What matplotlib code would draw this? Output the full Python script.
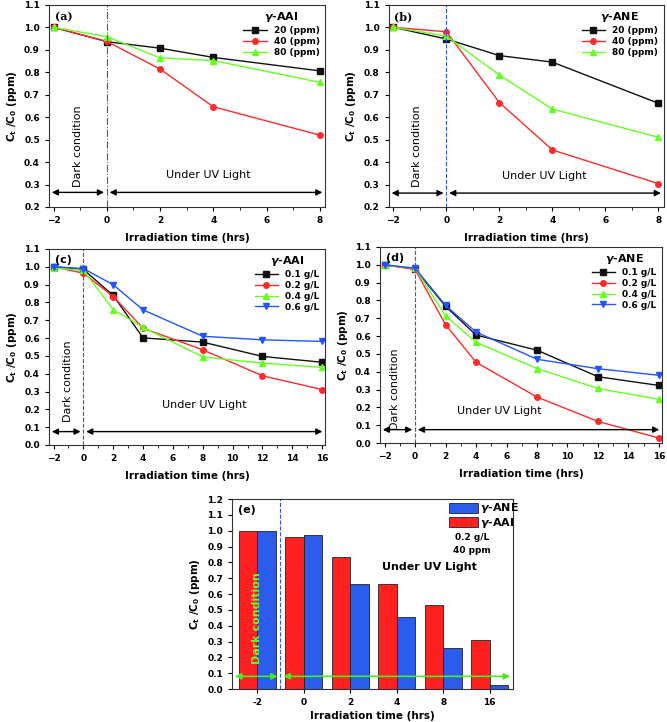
import matplotlib
matplotlib.use("Agg")
import matplotlib.pyplot as plt
from matplotlib.ticker import MultipleLocator, FormatStrFormatter
import numpy as np

plt.rcParams['font.family'] = ['DejaVu Sans']
plt.rcParams['font.weight'] = 'bold'
plt.rcParams['axes.labelweight'] = 'bold'

# ---- data ----
t_short = [-2, 0, 2, 4, 8]
t_long = [-2, 0, 2, 4, 8, 12, 16]

conc_labels = ['20 (ppm)', '40 (ppm)', '80 (ppm)']
aai_20 = [1.0, 0.936, 0.907, 0.866, 0.806]
aai_40 = [1.0, 0.937, 0.814, 0.646, 0.520]
aai_80 = [1.0, 0.958, 0.864, 0.852, 0.755]
ane_20 = [1.0, 0.948, 0.874, 0.845, 0.662]
ane_40 = [1.0, 0.980, 0.665, 0.454, 0.304]
ane_80 = [1.0, 0.961, 0.787, 0.636, 0.510]

dose_labels = ['0.1 g/L', '0.2 g/L', '0.4 g/L', '0.6 g/L']
aai_01 = [1.0, 0.985, 0.839, 0.601, 0.577, 0.497, 0.464]
aai_02 = [1.0, 0.964, 0.833, 0.655, 0.534, 0.388, 0.311]
aai_04 = [0.994, 0.980, 0.759, 0.660, 0.494, 0.459, 0.435]
aai_06 = [1.0, 0.990, 0.899, 0.758, 0.610, 0.590, 0.581]
ane_01 = [1.0, 0.977, 0.767, 0.606, 0.521, 0.372, 0.323]
ane_02 = [1.0, 0.974, 0.664, 0.453, 0.258, 0.121, 0.028]
ane_04 = [1.0, 0.981, 0.713, 0.565, 0.418, 0.306, 0.245]
ane_06 = [1.0, 0.981, 0.772, 0.623, 0.470, 0.417, 0.380]

bar_times = ['-2', '0', '2', '4', '8', '16']
bar_aai = [1.0, 0.962, 0.835, 0.661, 0.531, 0.311]
bar_ane = [1.0, 0.976, 0.664, 0.455, 0.258, 0.025]

colors = ['#111111', '#ff2a2a', '#66ff22', '#2255ff']
markers = ['s', 'o', '^', 'v']

fig = plt.figure(figsize=(6.67, 7.22), dpi=100)

ylab = r'C$_\mathbf{t}$ /C$_\mathbf{0}$ (ppm)'
xlab = 'Irradiation time (hrs)'


def style(ax, xlim, ylim, ystep):
    ax.set_xlim(xlim)
    ax.set_ylim(ylim)
    ax.xaxis.set_major_locator(MultipleLocator(2))
    ax.xaxis.set_minor_locator(MultipleLocator(1))
    ax.yaxis.set_major_locator(MultipleLocator(ystep))
    ax.yaxis.set_major_formatter(FormatStrFormatter('%.1f'))
    ax.tick_params(labelsize=6.5, direction='out', length=3, width=0.8)
    ax.tick_params(which='minor', direction='out', length=2)
    ax.set_xlabel(xlab, fontsize=7.5, labelpad=6)
    ax.set_ylabel(ylab, fontsize=7.5)
    for s in ax.spines.values():
        s.set_linewidth(0.8)
        s.set_color('#333333')


def arrows(ax, y, xlim, color='k'):
    kw = dict(arrowstyle='<|-|>', color=color, lw=1.0, mutation_scale=9)
    ax.annotate('', xy=(0, y), xytext=(xlim[0], y), arrowprops=kw)
    ax.annotate('', xy=(xlim[1], y), xytext=(0, y), arrowprops=kw)


def line_panel(rect, x, series, labels, title, tag, xlim, ylim, arr_y,
               dark_xy, uv_xy, vls, tagfont):
    ax = fig.add_axes(rect)
    for i, (ys, lab) in enumerate(zip(series, labels)):
        ax.plot(x, ys, color=colors[i], marker=markers[i], ms=4, lw=1.0,
                label=lab)
    ax.axvline(0, color='#3355dd', ls=vls, lw=0.8)
    style(ax, xlim, ylim, 0.1)
    arrows(ax, arr_y, xlim)
    ax.text(dark_xy[0], dark_xy[1], 'Dark condition', rotation=90,
            ha='center', va='center', fontsize=8, fontweight='normal')
    ax.text(uv_xy[0], uv_xy[1], 'Under UV Light', ha='center', va='center',
            fontsize=8, fontweight='normal')
    ax.text(0.02, 0.97, tag, transform=ax.transAxes, ha='left', va='top',
            fontsize=8, fontweight='bold', family=tagfont)
    ax.legend(loc='upper right', frameon=False, fontsize=6.5,
              title=title, title_fontproperties={'weight': 'bold', 'size': 8},
              handlelength=2.6, labelspacing=0.2, borderaxespad=0.2)
    return ax


xa = (-2.17, 8.2)
line_panel([0.0735, 0.7133, 0.414, 0.280], t_short, [aai_20, aai_40, aai_80],
           conc_labels, r'$\gamma$-AAI', '(a)', xa, (0.2, 1.1), 0.265,
           (-1.1, 0.47), (3.8, 0.344), '-.', 'DejaVu Serif')
line_panel([0.583, 0.7133, 0.412, 0.280], t_short, [ane_20, ane_40, ane_80],
           conc_labels, r'$\gamma$-ANE', '(b)', xa, (0.2, 1.1), 0.262,
           (-1.1, 0.47), (3.7, 0.336), '--', 'DejaVu Serif')

xc = (-2.3, 16.2)
line_panel([0.0735, 0.3837, 0.414, 0.2715], t_long,
           [aai_01, aai_02, aai_04, aai_06], dose_labels, r'$\gamma$-AAI',
           '(c)', xc, (0.0, 1.1), 0.075, (-1.05, 0.36), (8.1, 0.225), '--',
           'DejaVu Sans')
line_panel([0.5697, 0.3864, 0.4228, 0.2715], t_long,
           [ane_01, ane_02, ane_04, ane_06], dose_labels, r'$\gamma$-ANE',
           '(d)', xc, (0.0, 1.1), 0.075, (-1.33, 0.30), (5.5, 0.18), '--',
           'DejaVu Sans')

# ---- panel (e) bars ----
ax = fig.add_axes([0.348, 0.0457, 0.421, 0.263])
idx = np.arange(len(bar_times))
w = 0.4
ax.bar(idx - w / 2, bar_aai, w, color='#ff2020', edgecolor='#222222',
       lw=0.6, label=r'$\gamma$-AAI')
ax.bar(idx + w / 2, bar_ane, w, color='#2a5cee', edgecolor='#222222',
       lw=0.6, label=r'$\gamma$-ANE')
xe = (-0.54, 5.5)
ax.set_xlim(xe)
ax.set_ylim(0, 1.2)
ax.set_xticks(idx)
ax.set_xticklabels(bar_times)
ax.yaxis.set_major_locator(MultipleLocator(0.1))
ax.yaxis.set_major_formatter(FormatStrFormatter('%.1f'))
ax.tick_params(labelsize=6.5, direction='out', length=3, width=0.8)
ax.set_xlabel(xlab, fontsize=7.5, labelpad=3)
ax.set_ylabel(ylab, fontsize=7.5)
ax.axvline(0.5, color='#3355dd', ls='--', lw=0.8)
kw = dict(arrowstyle='<|-|>', color='#44ee22', lw=1.2, mutation_scale=9)
ax.annotate('', xy=(0.5, 0.08), xytext=(xe[0], 0.08), arrowprops=kw)
ax.annotate('', xy=(xe[1], 0.08), xytext=(0.5, 0.08), arrowprops=kw)
ax.text(0.0, 0.45, 'Dark condition', rotation=90, ha='center', va='center',
        fontsize=8, color='#66ff33')
ax.text(3.7, 0.77, 'Under UV Light', ha='center', va='center', fontsize=8)
ax.text(0.02, 0.97, '(e)', transform=ax.transAxes, ha='left', va='top',
        fontsize=8)
h, l = ax.get_legend_handles_labels()
ax.legend(h[::-1], l[::-1], loc='upper right', bbox_to_anchor=(1.03, 1.0),
          frameon=False, fontsize=8, handlelength=2.6, handleheight=1.0,
          labelspacing=0.05, borderaxespad=0.1, borderpad=0.1,
          handletextpad=0.2)
ax.text(4.62, 0.955, '0.2 g/L', ha='center', va='center', fontsize=6.5)
ax.text(4.62, 0.875, '40 ppm', ha='center', va='center', fontsize=6.5)
for s in ax.spines.values():
    s.set_linewidth(0.8)
    s.set_color('#333333')

fig.savefig('out.png', dpi=100)
